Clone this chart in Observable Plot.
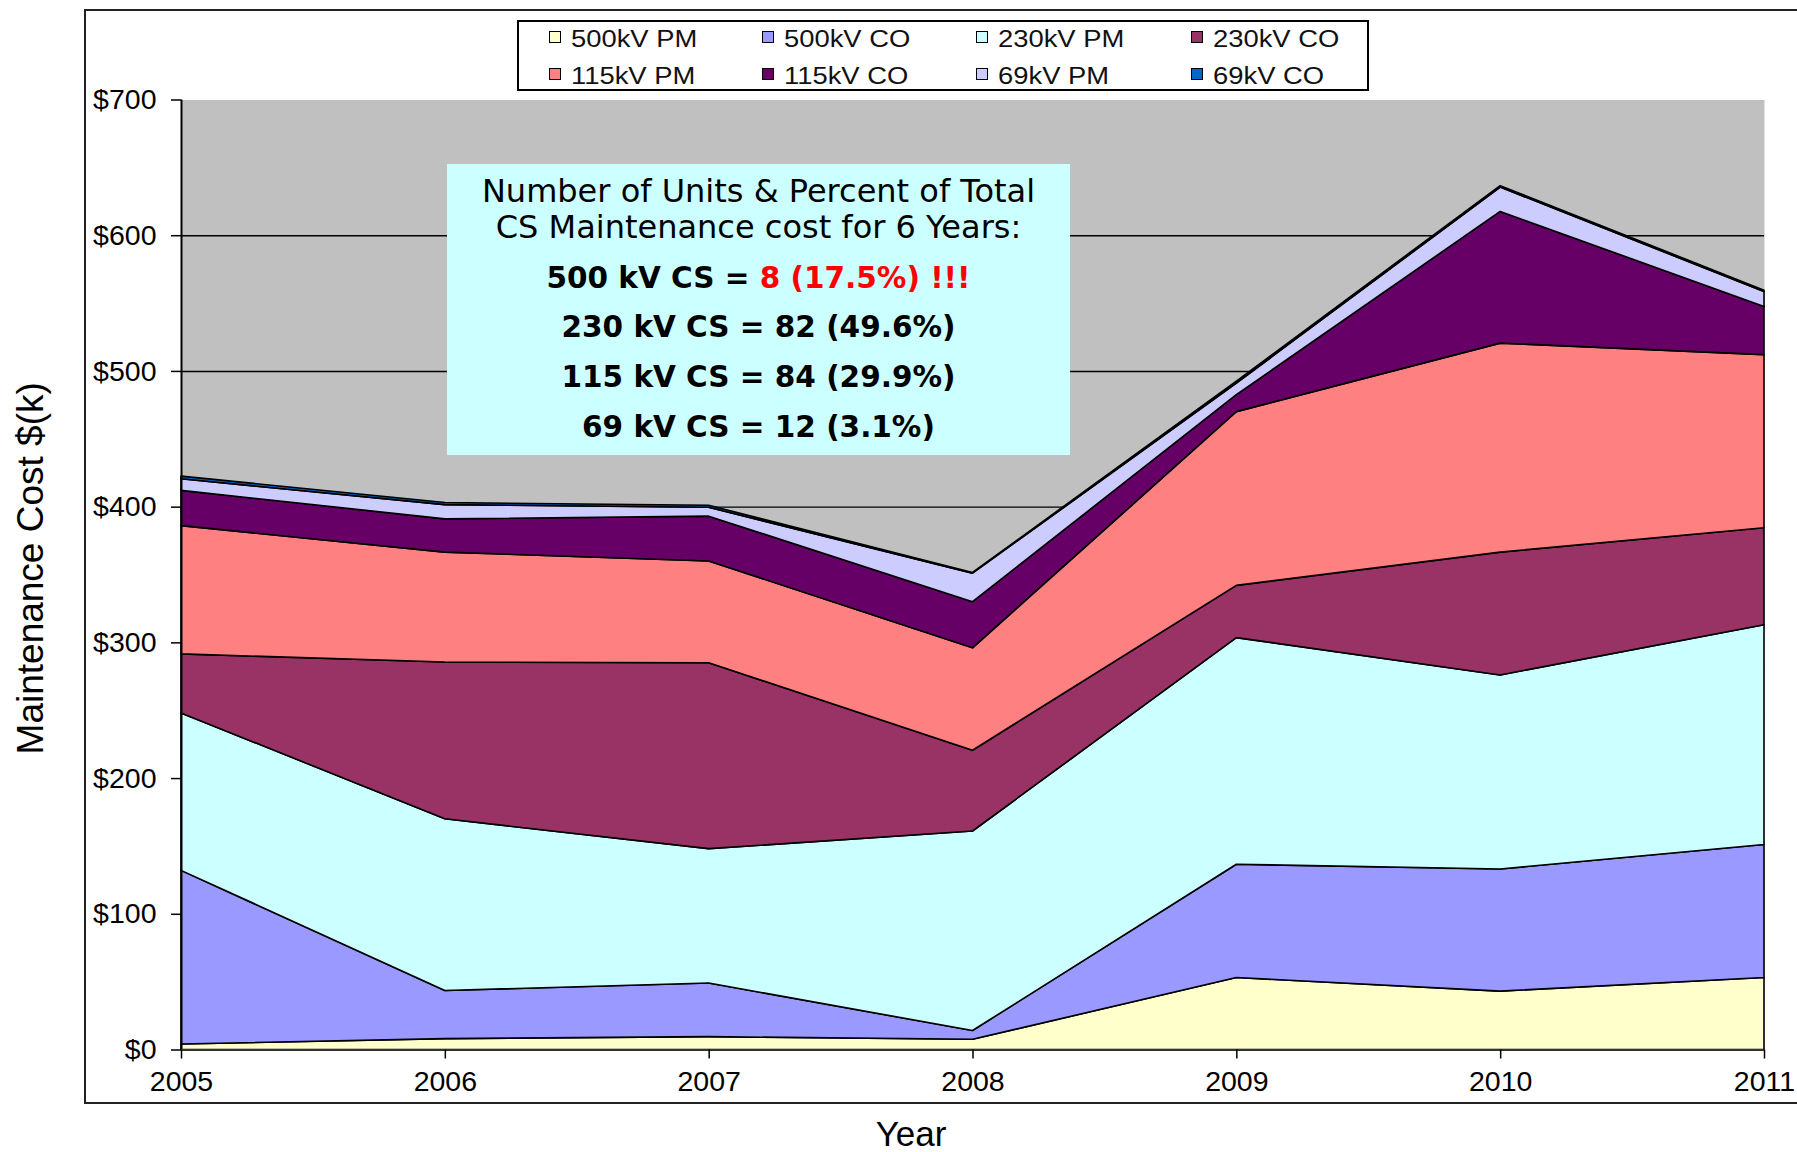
<!DOCTYPE html>
<html>
<head>
<meta charset="utf-8">
<script src="https://cdn.jsdelivr.net/npm/d3@7"></script>
<script src="https://cdn.jsdelivr.net/npm/@observablehq/plot@0.6"></script>
<style>
  body { margin: 0; background: #fff; }
  #wrap { position: relative; width: 1797px; height: 1152px; overflow: hidden; font-family: "Liberation Sans", Arial, sans-serif; color: #000; }
  #wrap svg { position: absolute; left: 0; top: 0; }
  #frame { position: absolute; left: 84px; top: 9px; width: 1760px; height: 1095px; box-sizing: border-box; border: 2px solid #222; pointer-events: none; }
  #legend { position: absolute; left: 517px; top: 20px; width: 851.5px; height: 71px; box-sizing: border-box; border: 2px solid #000; background: #fff; }
  .sw { position: absolute; width: 12px; height: 12px; box-sizing: border-box; border: 1px solid #000; }
  .lt { position: absolute; font-size: 23px; line-height: 23px; white-space: nowrap; color: #111; transform-origin: 0 50%; transform: scaleX(1.19); }
  #note { position: absolute; left: 447px; top: 164px; width: 623px; height: 291px; background: #ccffff; }
  .nl { position: absolute; left: 447px; width: 623px; text-align: center; font-family: "DejaVu Sans", Verdana, sans-serif; white-space: nowrap; }
  .t1 { font-size: 32px; line-height: 32px; }
  .b1 { font-size: 29.5px; line-height: 29.5px; font-weight: bold; }
  .red { color: #ff0000; }
  #ytitle { position: absolute; width: 600px; height: 37px; font-size: 37px; line-height: 37px; text-align: center; white-space: nowrap; transform-origin: 300px 31.3px; transform: rotate(-90deg); }
  #xtitle { position: absolute; width: 200px; font-size: 35px; line-height: 30px; text-align: center; }
</style>
</head>
<body>
<div id="wrap"></div>
<script>
// ---- data ----
const years = [2005, 2006, 2007, 2008, 2009, 2010, 2011];
const seriesNames = ["500kV PM", "500kV CO", "230kV PM", "230kV CO", "115kV PM", "115kV CO", "69kV PM", "69kV CO"];
const seriesColors = ["#ffffcc", "#9999ff", "#ccffff", "#993366", "#ff8080", "#660066", "#ccccff", "#0066cc"];
const pm500 = [4, 8, 9.5, 7.5, 53, 43, 53];
const co500 = [128, 35.5, 39.5, 6.5, 83.5, 90, 98];
const pm230 = [116, 126.5, 99, 147, 167, 143, 162];
const co230 = [43.5, 115.5, 137, 59.5, 38.5, 90.5, 71.5];
const pm115 = [94.5, 81, 75, 75.5, 128, 154, 127.5];
const co115 = [26, 24.5, 33, 34, 12.5, 97, 35.5];
const pm69 = [8.5, 10.5, 6.5, 21, 8.5, 18, 11];
const co69 = [2, 1.5, 1.5, 0.5, 1.5, 1, 1];
const yTicks = [0, 100, 200, 300, 400, 500, 600, 700];
const gridLines = [100, 200, 300, 400, 500, 600];
const yTitle = "Maintenance Cost $(k)";
const xTitle = "Year";
const noteTitle = ["Number of Units & Percent of Total", "CS Maintenance cost for 6 Years:"];
const noteLines = [
  ["500 kV CS = ", "8 (17.5%) !!!"],
  ["230 kV CS = 82 (49.6%)", ""],
  ["115 kV CS = 84 (29.9%)", ""],
  ["69 kV CS = 12 (3.1%)", ""]
];

const seriesValues = [pm500, co500, pm230, co230, pm115, co115, pm69, co69];
const data = seriesNames.flatMap((s, i) => years.map((yr, j) => ({year: yr, series: s, value: seriesValues[i][j]})));

const wrap = document.getElementById("wrap");

const chart = Plot.plot({
  width: 1797,
  height: 1152,
  marginLeft: 181,
  marginRight: 33,
  marginTop: 99.5,
  marginBottom: 102.5,
  x: {domain: [2005, 2011], axis: null},
  y: {domain: [0, 700], axis: null},
  color: {domain: seriesNames, range: seriesColors},
  style: {fontFamily: "'Liberation Sans', Arial, sans-serif", fontSize: "28.5px", color: "#000", background: "transparent", overflow: "visible"},
  marks: [
    Plot.frame({fill: "#c0c0c0", stroke: null}),
    Plot.ruleY(gridLines, {stroke: "#000", strokeWidth: 1.4}),
    Plot.areaY(data, {x: "year", y: "value", fill: "series", z: "series", order: seriesNames, stroke: "#000", strokeWidth: 1.6}),
    Plot.ruleX([2005], {stroke: "#000", strokeWidth: 2}),
    Plot.ruleY([0], {stroke: "#333", strokeWidth: 2}),
    Plot.axisY({ticks: yTicks, label: null, tickFormat: d => "$" + d, tickSize: 10, tickPadding: 15, fontSize: 28.5, stroke: "#000", strokeWidth: 1.5}),
    Plot.axisX({ticks: years, label: null, tickFormat: d => String(d), tickSize: 9, tickPadding: 12, fontSize: 28.5, stroke: "#000", strokeWidth: 1.5})
  ]
});
wrap.appendChild(chart);

// outer chart frame
const frame = document.createElement("div");
frame.id = "frame";
wrap.appendChild(frame);

// legend
const legend = document.createElement("div");
legend.id = "legend";
wrap.appendChild(legend);
const colLeft = [549, 761.7, 975.5, 1190.5];
const swMid = [37, 74];
const txtBase = [47.5, 84.5];
seriesNames.forEach((name, i) => {
  const col = i % 4, row = Math.floor(i / 4);
  const sw = document.createElement("div");
  sw.className = "sw";
  sw.style.background = seriesColors[i];
  sw.style.left = colLeft[col] + "px";
  sw.style.top = (swMid[row] - 6) + "px";
  wrap.appendChild(sw);
  const tx = document.createElement("div");
  tx.className = "lt";
  tx.textContent = name;
  tx.style.left = (colLeft[col] + 22) + "px";
  tx.style.top = (txtBase[row] - 0.8465 * 23) + "px";
  wrap.appendChild(tx);
});

// annotation box
const note = document.createElement("div");
note.id = "note";
wrap.appendChild(note);
const titleBase = [201.7, 238.3];
noteTitle.forEach((t, i) => {
  const d = document.createElement("div");
  d.className = "nl t1";
  d.style.top = (titleBase[i] - 0.846 * 32) + "px";
  d.textContent = t;
  wrap.appendChild(d);
});
const lineBase = [288.7, 338.3, 387.7, 437.7];
noteLines.forEach((parts, i) => {
  const d = document.createElement("div");
  d.className = "nl b1";
  d.style.top = (lineBase[i] - 0.846 * 29.5) + "px";
  const a = document.createElement("span");
  a.textContent = parts[0];
  d.appendChild(a);
  if (parts[1]) {
    const b = document.createElement("span");
    b.className = "red";
    b.textContent = parts[1];
    d.appendChild(b);
  }
  wrap.appendChild(d);
});

// axis titles
const yt = document.createElement("div");
yt.id = "ytitle";
yt.textContent = yTitle;
yt.style.left = (43.3 - 300) + "px";
yt.style.top = (568.5 - 31.3) + "px";
wrap.appendChild(yt);

const xt = document.createElement("div");
xt.id = "xtitle";
xt.textContent = xTitle;
xt.style.left = (911 - 100) + "px";
xt.style.top = (1146 - 27.1) + "px";
wrap.appendChild(xt);
</script>
</body>
</html>
